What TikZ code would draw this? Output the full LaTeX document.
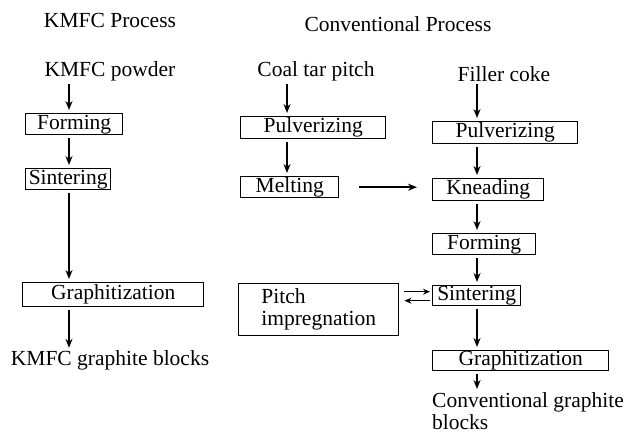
\documentclass[tikz,border=0pt]{standalone}
\usepackage{fontspec}
\setmainfont{Liberation Serif}
\usetikzlibrary{arrows.meta,calc}
\begin{document}
\begin{tikzpicture}[x=1pt,y=-1pt,
  every node/.style={font=\fontsize{21.5}{23}\selectfont, inner sep=0pt},
  box/.style={draw, line width=1.4pt, anchor=north west, text height=15pt, text depth=4.5pt},
  lbl/.style={anchor=base},
  arr/.style={line width=1.5pt, -{Stealth[length=9pt,width=7pt]}, shorten <=3pt, shorten >=3pt}]
\useasboundingbox (0,0) rectangle (631,434);
% titles
\node[lbl] (t1) at (110,27) {KMFC Process};
\node[lbl] (t2) at (398,31) {Conventional Process};
% column x positions
\coordinate (xa) at (69,0);
\coordinate (xb) at (287,0);
\coordinate (xc) at (477,0);
% KMFC column
\node[lbl] (powder) at (110,76) {KMFC powder};
\node[box, minimum width=97pt, minimum height=21pt] (f1) at (25,113) {Forming};
\node[box, minimum width=85pt, minimum height=21pt] (s1) at (25,168) {Sintering};
\node[box, minimum width=181pt, minimum height=24pt] (g1) at (22,282) {Graphitization};
\node[lbl] (kb) at (110,365) {KMFC graphite blocks};
\draw[arr] (powder.south -| xa) -- (f1.north -| xa);
\draw[arr] (f1.south -| xa) -- (s1.north -| xa);
\draw[arr] (s1.south -| xa) -- (g1.north -| xa);
\draw[arr] (g1.south -| xa) -- ([yshift=-1pt]kb.north -| xa);
% coal tar pitch column
\node[lbl] (coal) at (316,76) {Coal tar pitch};
\node[box, minimum width=145pt, minimum height=22pt] (p1) at (240,116) {Pulverizing};
\node[box, minimum width=98pt, minimum height=21pt] (m1) at (240,176) {Melting};
\node[box, minimum width=160pt, minimum height=52pt, align=left, text height=, text depth=] (pi) at (238,283) {Pitch\\[-1pt]impregnation};
\draw[arr] (coal.south -| xb) -- (p1.north -| xb);
\draw[arr] (p1.south -| xb) -- (m1.north -| xb);
% filler coke column
\node[lbl] (coke) at (504,81) {Filler coke};
\node[box, minimum width=145pt, minimum height=22pt] (p2) at (432,121) {Pulverizing};
\node[box, minimum width=111pt, minimum height=22pt] (k2) at (432,178) {Kneading};
\node[box, minimum width=103pt, minimum height=21pt] (f2) at (432,233) {Forming};
\node[box, minimum width=88pt, minimum height=20pt] (s2) at (432,285) {Sintering};
\node[box, minimum width=176pt, minimum height=19pt] (g2) at (432,350) {Graphitization};
\node[anchor=north west, align=left] (cb) at (432,392) {Conventional graphite\\[-1pt]blocks};
\draw[arr] (coke.south -| xc) -- (p2.north -| xc);
\draw[arr] (p2.south -| xc) -- (k2.north -| xc);
\draw[arr] (k2.south -| xc) -- (f2.north -| xc);
\draw[arr] (f2.south -| xc) -- (s2.north -| xc);
\draw[arr] (s2.south -| xc) -- (g2.north -| xc);
\draw[arr] (g2.south -| xc) -- (cb.north -| xc);
% cross connections
\draw[arr, shorten <=20pt, shorten >=15pt] (m1.east) -- (m1.east -| k2.west);
\coordinate (u2) at ([yshift=4pt]s2.west);
\coordinate (u1) at (u2 -| pi.east);
\coordinate (d2) at ([yshift=-5pt]s2.west);
\coordinate (d1) at (d2 -| pi.east);
\draw[arr, shorten <=5pt, shorten >=2pt, -{Stealth[length=7pt,width=6pt]}] (u1) -- (u2);
\draw[arr, shorten <=2pt, shorten >=5pt, -{Stealth[length=7pt,width=6pt]}] (d2) -- (d1);
\end{tikzpicture}
\end{document}
